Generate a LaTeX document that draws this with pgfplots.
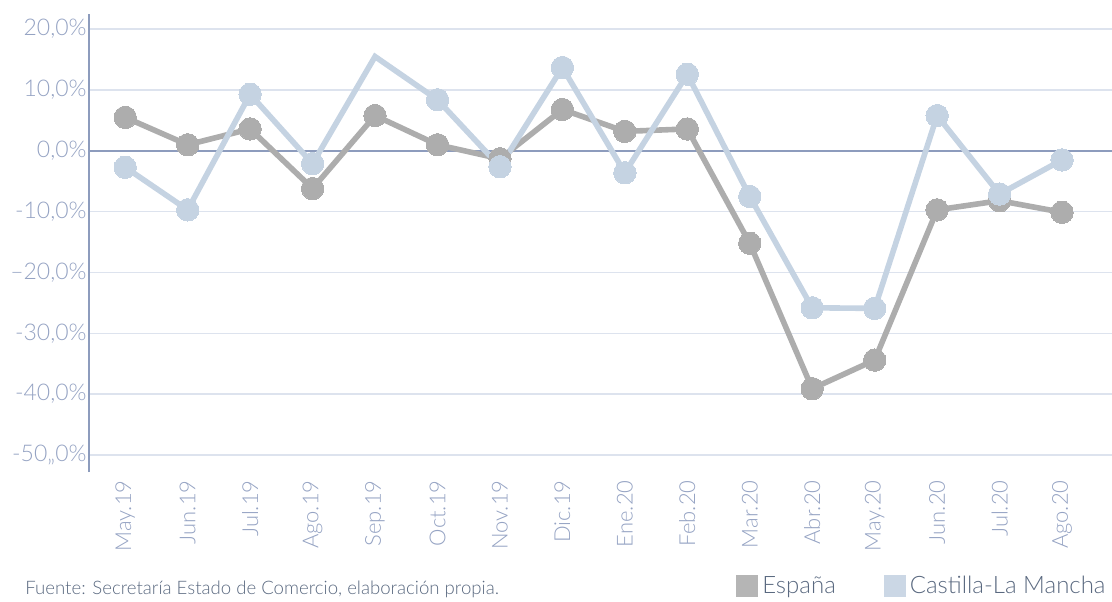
\documentclass[border=0pt]{standalone}
\usepackage{fontspec}
\setmainfont{Lato Light}
\usepackage{pgfplots}
\pgfplotsset{compat=1.18}

\definecolor{espc}{HTML}{ADADAD}
\definecolor{clmc}{HTML}{C5D3E2}
\definecolor{axc}{HTML}{8D9CBD}
\definecolor{tickc}{HTML}{95A3C3}
\definecolor{gridc}{HTML}{DDE3EE}
\definecolor{txtc}{HTML}{5A6980}

\begin{document}
\begin{tikzpicture}
\begin{axis}[
    scale only axis,
    width=511.5pt, height=229pt,
    xmin=-0.58, xmax=15.8,
    ymin=-52.8, ymax=22.5,
    axis lines=left,
    axis line style={-},
    x axis line style={draw=none},
    y axis line style={draw=axc, line width=1pt},
    major tick length=0pt,
    xtick={0,...,15},
    xticklabels={May.19,Jun.19,Jul.19,Ago.19,Sep.19,Oct.19,Nov.19,Dic.19,Ene.20,Feb.20,Mar.20,Abr.20,May.20,Jun.20,Jul.20,Ago.20},
    xticklabel style={rotate=90, anchor=east, inner sep=0pt, font=\fontsize{11}{12}\selectfont, text=tickc},
    xticklabel shift=4pt,
    ytick={-50,-40,...,20},
    yticklabels={{-50,,0\%},{-40,0\%},{-30,0\%},{–20,0\%},{-10,0\%},{0,0\%},{10,0\%},{20,0\%}},
    yticklabel style={anchor=east, inner sep=0pt, xshift=-1pt, font=\fontsize{11.5}{13}\selectfont, text=tickc},
    ymajorgrids,
    major grid style={draw=gridc, line width=0.8pt},
    extra y ticks={0},
    extra y tick labels={},
    extra y tick style={major grid style={draw=axc, line width=1pt}},
    legend image code/.code={\path[#1, draw=none] (0pt,-5.5pt) rectangle (11pt,5.5pt);},
    legend style={at={(axis description cs:0.998,-0.2817)}, anchor=south east,
        draw=none, fill=none, inner sep=0pt, legend columns=2,
        font=\fontsize{12}{14}\selectfont, text=txtc,
        /tikz/every even column/.append style={column sep=22pt}},
]

% España
\addplot[espc, line width=2.8pt, mark=*, mark size=5.6pt, mark options={draw=espc, fill=espc, line width=0pt}, forget plot] coordinates {
(0,5.5) (1,1.0) (2,3.6) (3,-6.2) (4,5.8) (5,1.0) (6,-1.3) (7,6.8)
(8,3.2) (9,3.6) (10,-15.2) (11,-39.1) (12,-34.4) (13,-9.7) (14,-8.2) (15,-10.1)
};

% Castilla-La Mancha (linea)
\addplot[clmc, line width=2.8pt, forget plot] coordinates {
(0,-2.7) (1,-9.7) (2,9.3) (3,-2.1) (4,15.5) (5,8.4) (6,-2.6) (7,13.7)
(8,-3.6) (9,12.6) (10,-7.5) (11,-25.8) (12,-25.9) (13,5.8) (14,-7.1) (15,-1.5)
};
% Castilla-La Mancha (marcas, sin Sep.19)
\addplot[clmc, only marks, mark=*, mark size=5.6pt, mark options={draw=clmc, fill=clmc, line width=0pt}, forget plot] coordinates {
(0,-2.7) (1,-9.7) (2,9.3) (3,-2.1) (5,8.4) (6,-2.6) (7,13.7)
(8,-3.6) (9,12.6) (10,-7.5) (11,-25.8) (12,-25.9) (13,5.8) (14,-7.1) (15,-1.5)
};

\addlegendimage{draw=none, fill=espc!90!white}
\addlegendentry{España}
\addlegendimage{draw=none, fill=clmc!90!white}
\addlegendentry{Castilla-La Mancha}
\end{axis}

\node[anchor=base west, inner sep=0pt, font=\fontsize{9.3}{11}\selectfont, text=txtc] at (-32pt,-61pt)
    {Fuente: Secretaría Estado de Comercio, elaboración propia.};

\pgfresetboundingbox
\useasboundingbox (-44.5pt,-64.5pt) rectangle (511.5pt,236pt);
\end{tikzpicture}
\end{document}
